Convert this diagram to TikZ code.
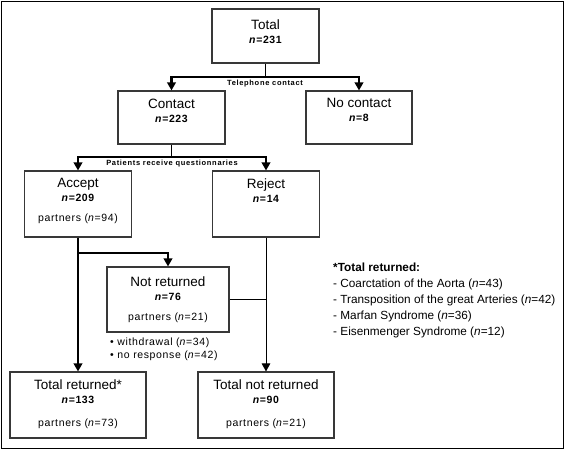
\documentclass[tikz,border=0pt]{standalone}
\usepackage{fontspec}
\setmainfont{Liberation Sans}
\usetikzlibrary{arrows.meta,positioning,calc}

\definecolor{boxline}{gray}{0.22}

\newcommand{\nb}[1]{{\fontsize{10.5}{12}\selectfont\bfseries\addfontfeature{LetterSpace=6}\textit{n}=#1}}
\newcommand{\partn}[1]{{\fontsize{10.5}{12}\selectfont\addfontfeature{LetterSpace=6}partners (\textit{n}=#1)}}

\tikzset{
  box/.style={draw=boxline, line width=1.1pt, inner sep=0pt},
  ttl/.style={anchor=north, align=center, inner sep=0pt, font=\fontsize{13.5}{14}\selectfont},
  lbl/.style={inner sep=0pt, font=\fontsize{7.5}{9}\selectfont\bfseries\addfontfeature{LetterSpace=9}},
  thinln/.style={line width=1pt},
  barln/.style={line width=2.6pt},
  tip/.style={-{Triangle[length=8pt,width=8.5pt]}}
}

\begin{document}
\begin{tikzpicture}[x=1pt,y=-1pt]
\useasboundingbox (0,0) rectangle (565,450);
\draw[line width=1.5pt] (1.5,1.5) rectangle (563.5,448.5);

% boxes
\node[box, minimum width=107pt, minimum height=54pt] (total) at (265.5,36) {};
\node[box, minimum width=107pt, minimum height=53pt] (contact) at (171.5,117.5) {};
\node[box, minimum width=106pt, minimum height=53pt] (nocontact) at (359,117.5) {};
\node[box, minimum width=107pt, minimum height=66pt] (accept) at (78,204) {};
\node[box, minimum width=107pt, minimum height=66pt] (reject) at (266,204) {};
\node[box, minimum width=122pt, minimum height=65pt] (notret) at (168,299.5) {};
\node[box, minimum width=136pt, minimum height=66pt] (totret) at (78,405) {};
\node[box, minimum width=136pt, minimum height=66pt] (totnot) at (266,405) {};

% box texts
\node[ttl] (total-t) at ([yshift=-11pt]total.north) {Total\\\nb{231}};
\node[ttl] (contact-t) at ([yshift=-8pt]contact.north) {Contact\\\nb{223}};
\node[ttl] (nocontact-t) at ([yshift=-8pt]nocontact.north) {No contact\\\nb{8}};
\node[ttl] (accept-t) at ([yshift=-8pt]accept.north) {Accept\\\nb{209}\\[6pt]\partn{94}};
\node[ttl] (reject-t) at ([yshift=-8pt]reject.north) {Reject\\\nb{14}};
\node[ttl] (notret-t) at ([yshift=-10pt]notret.north) {Not returned\\\nb{76}\\[6pt]\partn{21}};
\node[ttl] (totret-t) at ([yshift=-8pt]totret.north) {Total returned*\\\nb{133}\\[9pt]\partn{73}};
\node[ttl] (totnot-t) at ([yshift=-8pt]totnot.north) {Total not returned\\\nb{90}\\[9pt]\partn{21}};

% connectors
\coordinate (tel) at (265.5,77);
\coordinate (prq) at (171.5,157);
\coordinate (br) at (78,253);
\draw[thinln] (total) -- (tel);
\draw[barln, tip] (tel) -| (contact.north);
\draw[barln, tip] (tel) -| (nocontact.north);
\draw[thinln] (contact) -- (prq);
\draw[barln, tip] (prq) -| (accept.north);
\draw[barln, tip] (prq) -| (reject.north);
\draw[line width=2pt, tip] (accept) -- (totret);
\draw[barln, tip] (br) -| (notret.north);
\draw[thinln, tip] (reject) -- (totnot);
\draw[thinln] (notret.east) -- (notret.east -| reject.south);

\node[lbl] (tel-l) at (265,83.5) {Telephone contact};
\node[lbl] (prq-l) at (172,164) {Patients receive questionnaries};

% reasons not returned
\node[anchor=north west, align=left, inner sep=0pt, font=\fontsize{10.5}{13}\selectfont\addfontfeature{LetterSpace=6}]
  (why) at (110,338) {• withdrawal (\textit{n}=34)\\• no response (\textit{n}=42)};

% footnote
\node[anchor=north west, align=left, inner sep=0pt, font=\fontsize{11.8}{16}\selectfont]
  (legend) at (333,263) {\textbf{*Total returned:}\\
  - Coarctation of the Aorta (\textit{n}=43)\\
  - Transposition of the great Arteries (\textit{n}=42)\\
  - Marfan Syndrome (\textit{n}=36)\\
  - Eisenmenger Syndrome (\textit{n}=12)};
\end{tikzpicture}
\end{document}
